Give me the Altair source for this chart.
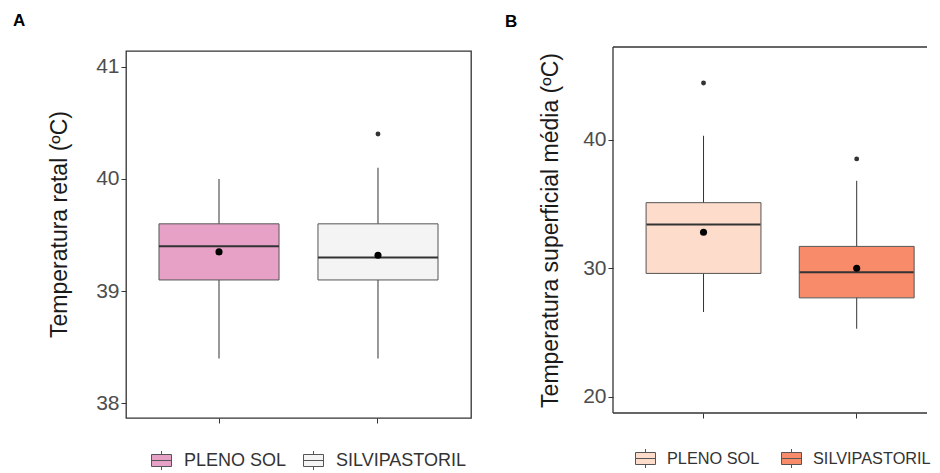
import altair as alt
import pandas as pd

cats = ["PLENO SOL", "SILVIPASTORIL"]

# Panel A: Temperatura retal
a_lo = [38.4, 38.4]
a_q1 = [39.1, 39.1]
a_med = [39.4, 39.3]
a_q3 = [39.6, 39.6]
a_hi = [40.0, 40.1]
a_mean = [39.35, 39.32]
a_out_cat = ["SILVIPASTORIL"]
a_out_val = [40.4]
a_colors = ["#E7A1C6", "#F4F4F4"]
a_ticks = [38, 39, 40, 41]
a_domain = [37.87, 41.14]

# Panel B: Temperatura superficial média
b_lo = [26.6, 25.3]
b_q1 = [29.6, 27.7]
b_med = [33.4, 29.7]
b_q3 = [35.1, 31.7]
b_hi = [40.3, 36.8]
b_mean = [32.8, 30.0]
b_out_cat = ["PLENO SOL", "SILVIPASTORIL"]
b_out_val = [44.4, 38.5]
b_colors = ["#FDDCCB", "#F88B6A"]
b_ticks = [20, 30, 40]
b_domain = [18.75, 47.2]

FONT = "Liberation Sans"
FRAME = "#333333"
BOXSYM = "M-1,-0.6H1V0.6H-1Z M-1,0H1 M0,-0.6V-0.95 M0,0.6V0.95"


def panel(label, lo, q1, med, q3, hi, mean, oc, ov, colors, ticks, domain,
          ytitle, w, h, top, bw, pin, pout, align, lab_x, lab_y, tpad, titley,
          leg_fs, leg_x, leg_y, leg_off, leg_col, open_right):
    df = pd.DataFrame({"cat": cats, "lo": lo, "q1": q1, "med": med,
                       "q3": q3, "hi": hi, "mean": mean})
    odf = pd.DataFrame({"cat": oc, "v": ov})
    xsc = alt.Scale(domain=cats, paddingInner=pin, paddingOuter=pout, align=align)
    xax = alt.Axis(title=None, labels=False, ticks=True, tickSize=5,
                   tickColor=FRAME, tickWidth=1, domain=False, grid=False)
    if top == 0:
        ysc = alt.Scale(domain=domain, nice=False, zero=False)
    else:
        ysc = alt.Scale(domain=domain, nice=False, zero=False, range=[h, top])
    yax = alt.Axis(values=ticks, title=ytitle, grid=False, domain=False,
                   tickSize=5, tickColor=FRAME, labelFontSize=21,
                   labelColor="#4D4D4D", labelFont=FONT, labelPadding=2,
                   titleFont=FONT, titleFontSize=23, titleFontWeight="normal",
                   titleColor="#1A1A1A", titlePadding=tpad, titleY=titley)

    def X():
        return alt.X("cat:N", scale=xsc, axis=xax)

    base = alt.Chart(df)
    whisk = base.mark_rule(color=FRAME, strokeWidth=1).encode(
        x=X(), y=alt.Y("lo:Q", scale=ysc, axis=yax), y2="hi:Q")
    box = base.mark_bar(stroke="#555555", strokeWidth=1, opacity=1).encode(
        x=X(), y=alt.Y("q1:Q", scale=ysc, axis=yax), y2="q3:Q",
        color=alt.Color("cat:N", scale=alt.Scale(domain=cats, range=colors),
                        legend=alt.Legend(orient="none", legendX=leg_x,
                                          legendY=leg_y, direction="horizontal",
                                          title=None, labelFontSize=leg_fs,
                                          labelFont=FONT, labelColor="#333333",
                                          symbolType=BOXSYM, symbolSize=400,
                                          symbolStrokeColor="#555555",
                                          symbolStrokeWidth=1, labelOffset=leg_off,
                                          columnPadding=leg_col)))
    medm = base.mark_tick(color=FRAME, thickness=2, size=bw, opacity=1).encode(
        x=X(), y=alt.Y("med:Q", scale=ysc, axis=yax))
    meanm = base.mark_circle(color="black", size=50, opacity=1).encode(
        x=X(), y=alt.Y("mean:Q", scale=ysc, axis=yax))
    outm = alt.Chart(odf).mark_circle(color=FRAME, size=24, opacity=1).encode(
        x=X(), y=alt.Y("v:Q", scale=ysc, axis=yax))
    lab = alt.Chart(pd.DataFrame({"t": [label]})).mark_text(
        font=FONT, fontSize=17, fontWeight="bold", align="left",
        baseline="top", color="black").encode(
        text="t:N", x=alt.value(lab_x), y=alt.value(lab_y))
    layers = [whisk, box, medm, meanm, outm, lab]
    if open_right:
        one = alt.Chart(pd.DataFrame({"d": [0]}))
        layers += [
            one.mark_rule(color=FRAME, strokeWidth=1.3).encode(
                x=alt.value(0), x2=alt.value(w), y=alt.value(top)),
            one.mark_rule(color=FRAME, strokeWidth=1.3).encode(
                x=alt.value(0), x2=alt.value(w), y=alt.value(h)),
            one.mark_rule(color=FRAME, strokeWidth=1.3).encode(
                x=alt.value(0), y=alt.value(top), y2=alt.value(h)),
        ]
    ch = alt.layer(*layers).properties(width=w, height=h).resolve_scale(
        color="independent")
    if open_right:
        ch = ch.properties(view=alt.ViewBackground(strokeWidth=0, stroke="transparent"))
    return ch


pa = panel("A", a_lo, a_q1, a_med, a_q3, a_hi, a_mean, a_out_cat, a_out_val,
           a_colors, a_ticks, a_domain, "Temperatura retal (ºC)",
           345, 367, 0, 120, 0.245, 0.2075, 0.5, -113, -38, 24, 173,
           18, 25, 399, 12, 14, False)
pb = panel("B", b_lo, b_q1, b_med, b_q3, b_hi, b_mean, b_out_cat, b_out_val,
           b_colors, b_ticks, b_domain, "Temperatura superficial média (ºC)",
           314, 362, -4, 114, 0.25, 0.15, 0.72, -108, -37, 20, 179,
           16.3, 22, 397, 11, 19, True)

chart = alt.concat(pa, pb, columns=2, spacing=33).resolve_scale(
    color="independent", x="independent", y="independent"
).properties(
    padding={"left": 4, "top": 3, "right": 0, "bottom": 0}
).configure(
    background="white"
).configure_view(
    stroke=FRAME, strokeWidth=1.3
)

chart.save("out.html", embed_options={"renderer": "svg", "actions": False})
